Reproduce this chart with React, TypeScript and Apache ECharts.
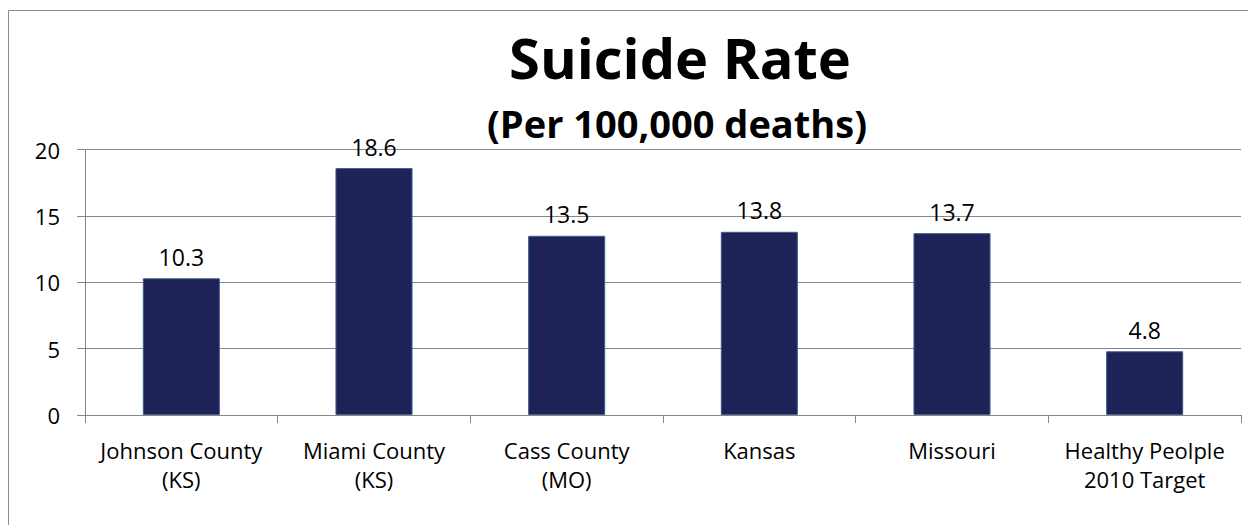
import React, { useEffect, useRef } from "react";
import * as echarts from "echarts";

const categories = [
  "Johnson County\n(KS)",
  "Miami County\n(KS)",
  "Cass County\n(MO)",
  "Kansas",
  "Missouri",
  "Healthy Peolple\n2010 Target",
];
const rates = [10.3, 18.6, 13.5, 13.8, 13.7, 4.8];
const titleText = "Suicide Rate";
const subtitleText = "(Per 100,000 deaths)";

const FONT = "'Open Sans', 'Noto Sans', sans-serif";

export default function App() {
  const ref = useRef<HTMLDivElement>(null);
  useEffect(() => {
    if (!ref.current) return;
    const chart = echarts.init(ref.current, null, { renderer: "svg" });
    chart.setOption({
      animation: false,
      backgroundColor: "#ffffff",
      grid: { left: 85, right: 7, top: 149.5, bottom: 110 },
      graphic: [
        {
          type: "rect",
          shape: { x: 8.5, y: 10.5, width: 1400, height: 700 },
          style: { fill: "none", stroke: "#8c8c8c", lineWidth: 1 },
          silent: true,
          z: -10,
        },
        {
          type: "text",
          x: 680,
          y: 57,
          style: {
            text: titleText,
            font: `bold 56px ${FONT}`,
            fill: "#000",
            textAlign: "center",
            textVerticalAlign: "middle",
          },
        },
        {
          type: "text",
          x: 677,
          y: 123,
          style: {
            text: subtitleText,
            font: `bold 38px ${FONT}`,
            fill: "#000",
            textAlign: "center",
            textVerticalAlign: "middle",
          },
        },
      ],
      xAxis: {
        type: "category",
        data: categories,
        axisLine: { show: true, lineStyle: { color: "#868686", width: 1 } },
        axisTick: { show: true, length: 8, lineStyle: { color: "#868686" } },
        axisLabel: {
          color: "#000",
          fontFamily: FONT,
          fontSize: 22,
          lineHeight: 29,
          margin: 20,
          interval: 0,
        },
        splitLine: { show: false },
      },
      yAxis: {
        type: "value",
        min: 0,
        max: 20,
        interval: 5,
        axisLine: { show: true, lineStyle: { color: "#868686", width: 1 } },
        axisTick: { show: true, length: 8, lineStyle: { color: "#868686" } },
        axisLabel: {
          color: "#000",
          fontFamily: FONT,
          fontSize: 22,
          margin: 25,
        },
        splitLine: { show: true, lineStyle: { color: "#868686", width: 1 } },
      },
      series: [
        {
          type: "bar",
          data: rates,
          barWidth: "40%",
          itemStyle: { color: "#1E2257", borderColor: "#3E5E8E", borderWidth: 1 },
          label: {
            show: true,
            position: "top",
            distance: 10,
            color: "#000",
            fontFamily: FONT,
            fontSize: 23,
          },
        },
      ],
    });
    return () => chart.dispose();
  }, []);
  return (
    <div
      ref={ref}
      style={{ position: "absolute", left: 0, top: 0, width: 1248, height: 525 }}
    />
  );
}
